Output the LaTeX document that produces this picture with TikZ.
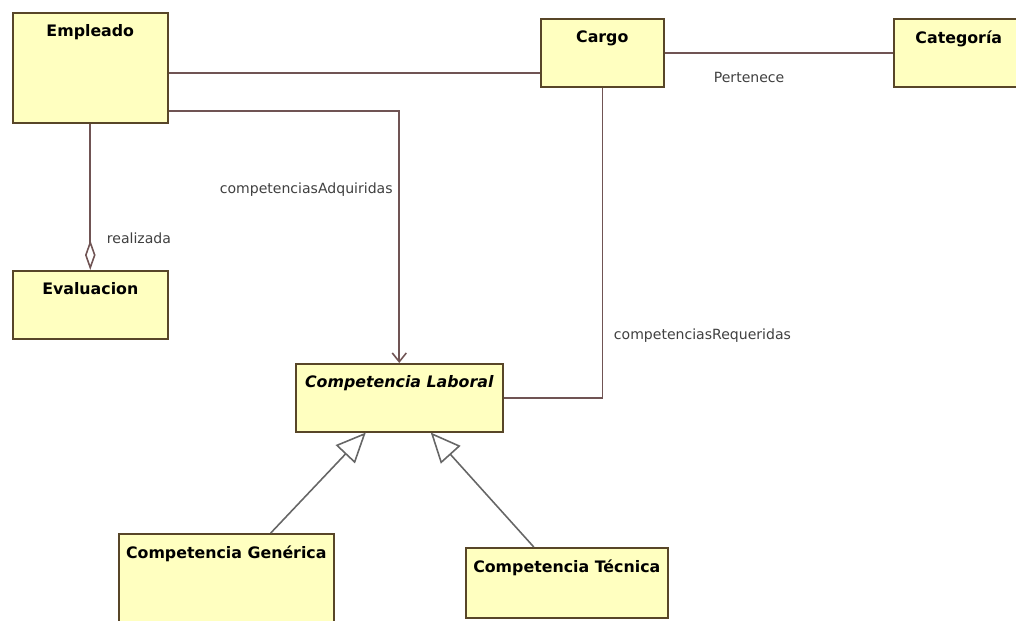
\documentclass[tikz,border=0pt]{standalone}
\usepackage{fontspec}
\setmainfont{DejaVu Sans}
\usetikzlibrary{arrows.meta, positioning}
\definecolor{classfill}{RGB}{255,255,192}
\definecolor{classdraw}{RGB}{88,70,40}
\definecolor{linkcol}{RGB}{112,84,84}
\tikzstyle{classbox} = [rectangle, anchor=north west, inner sep=0pt, draw=classdraw, fill=classfill, line width=0.9pt]
\tikzstyle{title} = [anchor=north, yshift=-0.13cm, font=\fontsize{9}{10}\selectfont\bfseries]
\tikzstyle{assoc} = [draw=linkcol, line width=0.9pt]
\tikzstyle{role} = [font=\fontsize{8}{9}\selectfont, text=black!75]
\tikzstyle{navig} = [assoc, -{Straight Barb[length=5pt, width=8pt]}]
\tikzstyle{aggr} = [assoc, -{Diamond[open, length=17pt, width=6pt, fill=white]}]
\tikzstyle{generaliz} = [assoc, draw=black!60, -{Triangle[open, length=17pt, width=15pt, fill=white]}]

\begin{document}
\begin{tikzpicture}[x=0.02cm, y=-0.02cm]
    \useasboundingbox (0,0) rectangle (1016,621);
    \clip (0,0) rectangle (1016,621);
    % classes
    \node (emp) [classbox, minimum width=3.1cm, minimum height=2.2cm, label={[title]north:Empleado}] at (12,12) {};
    \node (cargo) [classbox, minimum width=2.46cm, minimum height=1.36cm, label={[title]north:Cargo}] at (540,18) {};
    \node (cat) [classbox, minimum width=2.6cm, minimum height=1.36cm, label={[title]north:Categoría}] at (893,18) {};
    \node (eval) [classbox, minimum width=3.1cm, minimum height=1.36cm, label={[title]north:Evaluacion}] at (12,270) {};
    \node (lab) [classbox, minimum width=4.14cm, minimum height=1.36cm, label={[title, font=\fontsize{9}{10}\selectfont\bfseries\itshape]north:Competencia Laboral}] at (295,363) {};
    \node (gen) [classbox, minimum width=4.3cm, minimum height=2.34cm, label={[title]north:Competencia Genérica}] at (118,533) {};
    \node (tec) [classbox, minimum width=4.04cm, minimum height=1.4cm, label={[title]north:Competencia Técnica}] at (465,547) {};
    % associations
    \draw [assoc] ([yshift=-0.1cm]emp.east) -- ([yshift=-0.1cm]emp.east -| cargo.west);
    \draw [assoc] (cargo.east) -- node[role, below, pos=0.37, yshift=-0.25cm] {Pertenece} (cat.west);
    \draw [navig] ([yshift=-0.86cm]emp.east) -| node[role, left, pos=0.656] {competenciasAdquiridas} (lab.north);
    \draw [aggr] (emp.south) -- node[role, right, pos=0.78, xshift=0.2cm] {realizada} (eval.north);
    \draw [assoc] (cargo.south) |- node[role, right, pos=0.40, xshift=0.1cm] {competenciasRequeridas} (lab.east);
    % generalizations
    \draw [generaliz] ([xshift=0.89cm]gen.north) -- ([xshift=-0.67cm]lab.south);
    \draw [generaliz] ([xshift=-0.66cm]tec.north) -- ([xshift=0.63cm]lab.south);
\end{tikzpicture}
\end{document}
